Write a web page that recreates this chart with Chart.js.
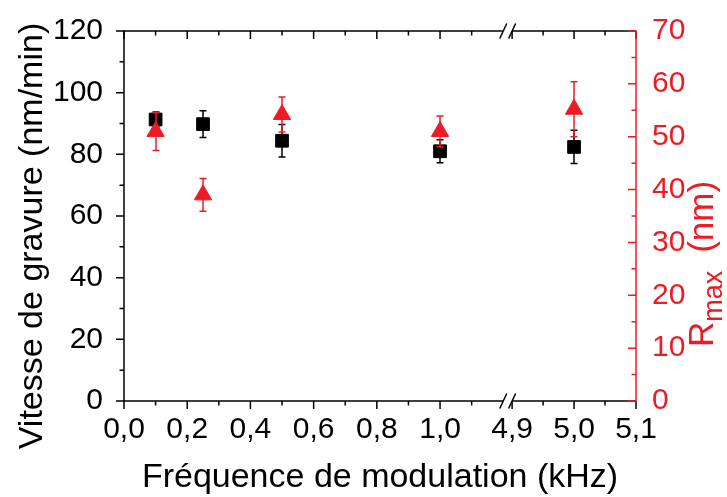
<!DOCTYPE html>
<html><head><meta charset="utf-8">
<script src="https://cdn.jsdelivr.net/npm/chart.js@4.4.1/dist/chart.umd.min.js"></script>
<style>html,body{margin:0;padding:0;background:#fff;}canvas{display:block;}</style>
</head><body>
<canvas id="c" width="727" height="497"></canvas>
<script>
// ---- data ----
const frequencies = [0.1, 0.25, 0.5, 1.0, 5.0];          // kHz
const vitesse     = [91.3, 89.8, 84.4, 81.0, 82.4];      // nm/min
const vitesseErr  = [2.4, 4.3, 5.3, 3.7, 5.4];
const rmax        = [51.0, 39.0, 54.2, 51.0, 55.2];      // nm
const rmaxErr     = [3.6, 3.1, 3.3, 2.9, 5.2];
const xMajorTicks = [0.0, 0.2, 0.4, 0.6, 0.8, 1.0, 4.9, 5.0, 5.1];
const xMinorTicks = [0.1, 0.3, 0.5, 0.7, 0.9, 1.1, 4.95, 5.05];
const leftTicks   = [0, 20, 40, 60, 80, 100, 120];
const leftMinor   = [10, 30, 50, 70, 90, 110];
const rightTicks  = [0, 10, 20, 30, 40, 50, 60, 70];
const rightMinor  = [5, 15, 25, 35, 45, 55, 65];
const xTitle = 'Fréquence de modulation (kHz)';
const yTitle = 'Vitesse de gravure (nm/min)';
const y2TitleMain = 'R', y2TitleSub = 'max', y2TitleRest = '(nm)';

// ---- broken x axis mapping ----
const BREAK_LOW = 1.2, BREAK_HIGH = 4.9, BREAK_GAP = 0.028, HIGH_STRETCH = 1.96;
function toAxis(x){ return x <= BREAK_LOW + 1e-9 ? x : BREAK_LOW + BREAK_GAP + (x - BREAK_HIGH) * HIGH_STRETCH; }
function fromAxis(u){ return u <= BREAK_LOW + BREAK_GAP / 2 ? u : BREAK_HIGH + (u - BREAK_LOW - BREAK_GAP) / HIGH_STRETCH; }
const fmt = v => v.toFixed(1).replace('.', ',');

const RED = '#ED1C24', BLACK = '#000000';
const FONT = "'Liberation Sans', Arial, sans-serif";

const errorBars = {
  id: 'errorBars',
  beforeDatasetDraw(chart, args) {
    const ds = chart.data.datasets[args.index];
    const ctx = chart.ctx, xs = chart.scales.x, ys = chart.scales[ds.yAxisID];
    ctx.save();
    ctx.strokeStyle = ds.borderColor; ctx.lineWidth = 1.5;
    ds.data.forEach((p, i) => {
      const e = ds.errors[i];
      const px = Math.round(xs.getPixelForValue(p.x));
      const t = ys.getPixelForValue(p.y + e), b = ys.getPixelForValue(p.y - e);
      ctx.beginPath();
      ctx.moveTo(px, t); ctx.lineTo(px, b);
      ctx.moveTo(px - 3.5, t); ctx.lineTo(px + 3.5, t);
      ctx.moveTo(px - 3.5, b); ctx.lineTo(px + 3.5, b);
      ctx.stroke();
    });
    ctx.restore();
  }
};

const frame = {
  id: 'frame',
  beforeDatasetsDraw(chart) {
    const ctx = chart.ctx, a = chart.chartArea;
    const xs = chart.scales.x, yl = chart.scales.y, yr = chart.scales.yR;
    const bx1 = xs.getPixelForValue(BREAK_LOW), bx2 = xs.getPixelForValue(BREAK_LOW + BREAK_GAP);
    ctx.save();
    ctx.lineWidth = 1.5; ctx.lineCap = 'butt';
    ctx.strokeStyle = BLACK;
    [a.top, a.bottom].forEach(y => {
      ctx.beginPath();
      ctx.moveTo(a.left, y); ctx.lineTo(bx1, y);
      ctx.moveTo(bx2, y); ctx.lineTo(a.right, y);
      ctx.stroke();
      ctx.beginPath();
      [bx1, bx2].forEach(bx => { ctx.moveTo(bx - 3.5, y + 7.5); ctx.lineTo(bx + 3.5, y - 7.5); });
      ctx.stroke();
    });
    ctx.beginPath(); ctx.moveTo(a.left, a.top - 0.75); ctx.lineTo(a.left, a.bottom + 0.75); ctx.stroke();
    ctx.beginPath();
    xMajorTicks.forEach(v => { const px = xs.getPixelForValue(toAxis(v));
      ctx.moveTo(px, a.bottom); ctx.lineTo(px, a.bottom + 8);
      ctx.moveTo(px, a.top); ctx.lineTo(px, a.top + 8); });
    xMinorTicks.forEach(v => { const px = xs.getPixelForValue(toAxis(v));
      ctx.moveTo(px, a.bottom); ctx.lineTo(px, a.bottom + 4.5);
      ctx.moveTo(px, a.top); ctx.lineTo(px, a.top + 4.5); });
    leftTicks.forEach(v => { const py = yl.getPixelForValue(v); ctx.moveTo(a.left, py); ctx.lineTo(a.left - 8, py); });
    leftMinor.forEach(v => { const py = yl.getPixelForValue(v); ctx.moveTo(a.left, py); ctx.lineTo(a.left - 4.5, py); });
    ctx.stroke();
    ctx.strokeStyle = RED;
    ctx.beginPath(); ctx.moveTo(a.right, a.top - 0.75); ctx.lineTo(a.right, a.bottom + 0.75);
    rightTicks.forEach(v => { const py = yr.getPixelForValue(v); ctx.moveTo(a.right, py); ctx.lineTo(a.right - 8, py); });
    rightMinor.forEach(v => { const py = yr.getPixelForValue(v); ctx.moveTo(a.right, py); ctx.lineTo(a.right - 4.5, py); });
    ctx.stroke();
    ctx.restore();
  },
  afterDraw(chart) {
    const ctx = chart.ctx, a = chart.chartArea;
    ctx.save();
    ctx.fillStyle = BLACK;
    ctx.font = '34px ' + FONT;
    ctx.textAlign = 'center'; ctx.textBaseline = 'alphabetic';
    ctx.fillText(xTitle, (a.left + a.right) / 2, 487);
    ctx.save();
    ctx.translate(42, 236); ctx.rotate(-Math.PI / 2);
    ctx.fillText(yTitle, 0, 0);
    ctx.restore();
    // right title with subscript
    ctx.fillStyle = RED;
    const fMain = '35px ' + FONT, fSub = '27px ' + FONT, gap = 18;
    ctx.font = fMain; const wR = ctx.measureText(y2TitleMain).width, wRest = ctx.measureText(y2TitleRest).width;
    ctx.font = fSub; const wSub = ctx.measureText(y2TitleSub).width;
    const total = wR + wSub + gap + wRest;
    ctx.translate(713, 264); ctx.rotate(-Math.PI / 2);
    ctx.textAlign = 'left'; ctx.textBaseline = 'alphabetic';
    let x0 = -total / 2;
    ctx.font = fMain; ctx.fillText(y2TitleMain, x0, 0); x0 += wR;
    ctx.font = fSub; ctx.fillText(y2TitleSub, x0, 9); x0 += wSub + gap;
    ctx.font = fMain; ctx.fillText(y2TitleRest, x0, 0);
    ctx.restore();
  }
};

new Chart(document.getElementById('c'), {
  type: 'scatter',
  data: {
    datasets: [
      { label: 'Rmax', yAxisID: 'yR',
        data: frequencies.map((f, i) => ({ x: toAxis(f), y: rmax[i] })), errors: rmaxErr,
        pointStyle: 'triangle', pointRadius: 10, pointHoverRadius: 10,
        backgroundColor: RED, borderColor: RED, borderWidth: 1 },
      { label: 'Vitesse', yAxisID: 'y',
        data: frequencies.map((f, i) => ({ x: toAxis(f), y: vitesse[i] })), errors: vitesseErr,
        pointStyle: 'rect', pointRadius: 9, pointHoverRadius: 9,
        backgroundColor: BLACK, borderColor: BLACK, borderWidth: 1 }
    ]
  },
  options: {
    responsive: false, animation: false, devicePixelRatio: 1,
    layout: { padding: { top: 25, left: 0, right: 0, bottom: 0 } },
    plugins: { legend: { display: false }, tooltip: { enabled: false } },
    scales: {
      x: { type: 'linear', position: 'bottom', min: 0, max: toAxis(5.1),
        grid: { display: false }, border: { display: false },
        afterBuildTicks: s => { s.ticks = xMajorTicks.map(v => ({ value: toAxis(v) })); },
        afterFit: s => { s.height = 96; },
        ticks: { autoSkip: false, maxRotation: 0, padding: 3, color: BLACK,
          font: { family: FONT, size: 30 }, callback: v => fmt(fromAxis(v)) } },
      y: { type: 'linear', position: 'left', min: 0, max: 120,
        grid: { display: false }, border: { display: false },
        afterBuildTicks: s => { s.ticks = leftTicks.map(v => ({ value: v })); },
        afterFit: s => { s.width = 124; },
        ticks: { padding: 13, color: BLACK, font: { family: FONT, size: 30 } } },
      yR: { type: 'linear', position: 'right', min: 0, max: 70,
        grid: { display: false }, border: { display: false },
        afterBuildTicks: s => { s.ticks = rightTicks.map(v => ({ value: v })); },
        afterFit: s => { s.width = 91; },
        ticks: { padding: 8, color: RED, font: { family: FONT, size: 30 } } }
    }
  },
  plugins: [errorBars, frame]
});
</script>
</body></html>
